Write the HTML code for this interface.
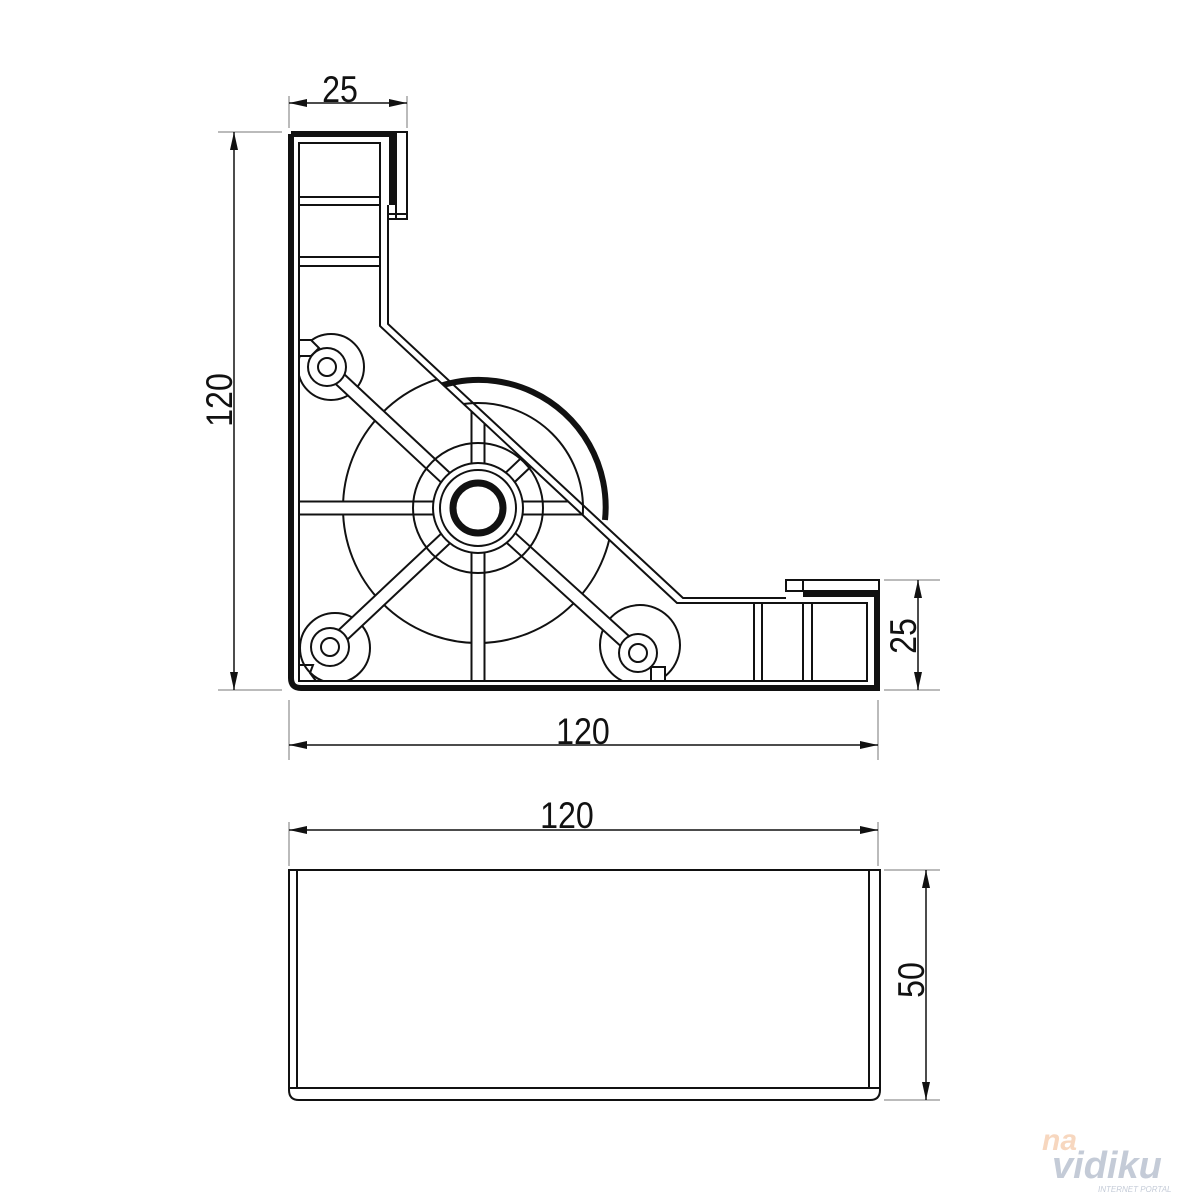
<!DOCTYPE html>
<html><head><meta charset="utf-8"><style>
html,body{margin:0;padding:0;background:#fff;width:1200px;height:1200px;overflow:hidden}
svg{display:block}
text{font-family:"Liberation Sans",sans-serif;fill:#111}
</style></head><body>
<svg width="1200" height="1200" viewBox="0 0 1200 1200" xmlns="http://www.w3.org/2000/svg">
<defs>
<clipPath id="cav"><polygon points="299,143 380,143 380,326 677,603 867,603 867,681 299,681"/></clipPath>
<marker id="a" viewBox="0 0 18 8" refX="18" refY="4" markerWidth="18" markerHeight="8" markerUnits="userSpaceOnUse" orient="auto-start-reverse"><path d="M0,0 L18,4 L0,8 z" fill="#111"/></marker>
</defs>
<g stroke="#111" fill="none" stroke-width="1">
<!-- dimensions -->
<line x1="289" y1="96" x2="289" y2="128" stroke="#777"/>
<line x1="407" y1="96" x2="407" y2="128" stroke="#777"/>
<line x1="289" y1="103" x2="407" y2="103" marker-start="url(#a)" marker-end="url(#a)" stroke-width="1.5"/>
<line x1="218" y1="132" x2="282" y2="132" stroke="#777"/>
<line x1="218" y1="690" x2="282" y2="690" stroke="#777"/>
<line x1="234" y1="132" x2="234" y2="690" marker-start="url(#a)" marker-end="url(#a)" stroke-width="1.5"/>
<line x1="884" y1="580" x2="940" y2="580" stroke="#777"/>
<line x1="884" y1="690" x2="940" y2="690" stroke="#777"/>
<line x1="918" y1="580" x2="918" y2="690" marker-start="url(#a)" marker-end="url(#a)" stroke-width="1.5"/>
<line x1="289" y1="700" x2="289" y2="760" stroke="#777"/>
<line x1="878" y1="700" x2="878" y2="760" stroke="#777"/>
<line x1="289" y1="745" x2="878" y2="745" marker-start="url(#a)" marker-end="url(#a)" stroke-width="1.5"/>
<line x1="289" y1="822" x2="289" y2="866" stroke="#777"/>
<line x1="878" y1="822" x2="878" y2="866" stroke="#777"/>
<line x1="289" y1="830" x2="878" y2="830" marker-start="url(#a)" marker-end="url(#a)" stroke-width="1.5"/>
<line x1="884" y1="870" x2="940" y2="870" stroke="#777"/>
<line x1="884" y1="1100" x2="940" y2="1100" stroke="#777"/>
<line x1="926" y1="870" x2="926" y2="1100" marker-start="url(#a)" marker-end="url(#a)" stroke-width="1.5"/>

<!-- wheel behind (outside) -->
<path d="M388,418 A127,127 0 0 1 605,520" stroke-width="6"/>
<circle cx="478" cy="508" r="105" stroke-width="2"/>

<!-- cavity contents -->
<g clip-path="url(#cav)" stroke-width="2">
 <rect x="290" y="140" width="600" height="560" fill="#fff" stroke="none"/>
 <circle cx="478" cy="508" r="135"/>
 <circle cx="331" cy="367" r="33"/>
 <circle cx="335" cy="648" r="35"/>
 <circle cx="640" cy="645" r="40"/>
 <g stroke-linecap="butt">
  <g stroke="#111" stroke-width="15">
   <line x1="290" y1="508" x2="700" y2="508"/>
   <line x1="478" y1="380" x2="478" y2="700"/>
   <line x1="327" y1="367" x2="478" y2="508"/>
   <line x1="330" y1="647" x2="478" y2="508"/>
   <line x1="638" y1="653" x2="478" y2="508"/>
   <line x1="478" y1="508" x2="560" y2="430"/>
  </g>
  <g stroke="#fff" stroke-width="11">
   <line x1="290" y1="508" x2="700" y2="508"/>
   <line x1="478" y1="380" x2="478" y2="700"/>
   <line x1="327" y1="367" x2="478" y2="508"/>
   <line x1="330" y1="647" x2="478" y2="508"/>
   <line x1="638" y1="653" x2="478" y2="508"/>
   <line x1="478" y1="508" x2="560" y2="430"/>
  </g>
 </g>
 <circle cx="478" cy="508" r="65" fill="none"/>
 <!-- redraw inner parts of circles over spokes -->
 <circle cx="478" cy="508" r="45" fill="#fff"/>
 <circle cx="478" cy="508" r="38" fill="#fff"/>
 <circle cx="478" cy="508" r="25" fill="#fff" stroke-width="7"/>
 <circle cx="327" cy="367" r="19" fill="#fff"/>
 <circle cx="327" cy="367" r="9" fill="#fff"/>
 <circle cx="330" cy="647" r="19" fill="#fff"/>
 <circle cx="330" cy="647" r="9" fill="#fff"/>
 <circle cx="638" cy="653" r="19" fill="#fff"/>
 <circle cx="638" cy="653" r="9" fill="#fff"/>
 <path d="M299,340 h12 l8,8 l-8,8 h-12" fill="#fff"/>
 <path d="M299,665 h14 l-3,8 l6,8" fill="none"/>
 <rect x="651" y="667" width="14" height="16" fill="#fff"/>
 <!-- vertical arm bars -->
 <rect x="299" y="197" width="81" height="8" fill="#fff"/>
 <rect x="299" y="257" width="81" height="9" fill="#fff"/>
 <!-- horizontal arm bars -->
 <rect x="754" y="603" width="8" height="78" fill="#fff"/>
 <rect x="803" y="603" width="9" height="78" fill="#fff"/>
</g>

<!-- part outline -->
<g stroke-width="2">
 <polygon points="299,143 380,143 380,326 677,603 867,603 867,681 299,681"/>
 <polyline points="388,205 388,324 683,598 786,598"/>
 <rect x="396" y="132" width="11" height="87" fill="#fff"/>
 <rect x="388" y="214" width="19" height="5"/>
 <rect x="786" y="580" width="93" height="11" fill="#fff"/>
 <line x1="803" y1="580" x2="803" y2="591"/>
</g>
<path d="M291,134 H392 V205" stroke-width="6"/>
<path d="M291,134 V678 Q291,688 301,688 H877 V594 H803" stroke-width="6" stroke-linejoin="miter"/>

<!-- front view -->
<g stroke-width="2">
 <path d="M289,870 V1090 Q289,1100 299,1100 H870 Q880,1100 880,1090 V870 Z"/>
 <line x1="297" y1="870" x2="297" y2="1088"/>
 <line x1="869" y1="870" x2="869" y2="1088"/>
 <line x1="289" y1="1088" x2="880" y2="1088"/>
</g>
</g>

<!-- labels -->
<text x="340" y="102" font-size="37" text-anchor="middle" transform="translate(340 0) scale(0.87 1) translate(-340 0)">25</text>
<text x="583" y="744" font-size="37" text-anchor="middle" transform="translate(583 0) scale(0.87 1) translate(-583 0)">120</text>
<text x="567" y="828" font-size="37" text-anchor="middle" transform="translate(567 0) scale(0.87 1) translate(-567 0)">120</text>
<text font-size="37" text-anchor="middle" transform="translate(232 400) rotate(-90) scale(0.87 1)">120</text>
<text font-size="37" text-anchor="middle" transform="translate(916 636) rotate(-90) scale(0.87 1)">25</text>
<text font-size="37" text-anchor="middle" transform="translate(924 980) rotate(-90) scale(0.87 1)">50</text>

<!-- watermark -->
<g opacity="0.5">
<text x="1042" y="1150" font-size="30" font-style="italic" font-weight="bold" style="fill:#f0b080">na</text>
<text x="1052" y="1178" font-size="38" font-style="italic" font-weight="bold" style="fill:#8a98b0">vidiku</text>
<text x="1098" y="1192" font-size="8" font-style="italic" style="fill:#8a98b0">INTERNET PORTAL</text>
</g>
</svg>
</body></html>
